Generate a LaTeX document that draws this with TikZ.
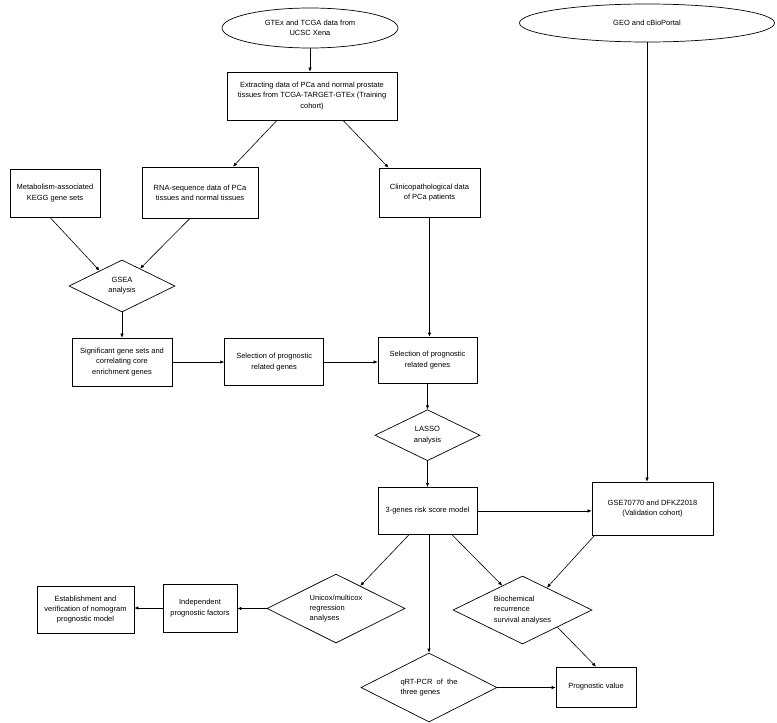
\documentclass[tikz,border=0pt]{standalone}
\usepackage{fontspec}
\setmainfont{Liberation Sans}
\usepackage{tikz}
\usetikzlibrary{calc, arrows.meta, positioning, shapes.geometric}

\begin{document}
\begin{tikzpicture}[
    x=1pt, y=-1pt,
    every node/.style={font=\fontsize{7.5}{10.3}\selectfont, align=center},
    box/.style={draw, line width=0.7pt, inner sep=1pt},
    src/.style={draw, ellipse, line width=0.7pt, inner sep=0pt},
    test/.style={draw, diamond, aspect=2, line width=0.7pt, inner sep=0pt},
    flow/.style={-{Latex[length=4pt,width=3.5pt]}, line width=0.6pt},
  ]
  \useasboundingbox (0,0) rectangle (777,723);

  % data sources
  \node[src, minimum width=176pt, minimum height=40pt] at (310,28) (gtex)
    {GTEx and TCGA data from\\UCSC Xena};
  \node[src, minimum width=255pt, minimum height=38pt] at (647,23) (geo)
    {GEO and cBioPortal};

  % training cohort
  \node[box, minimum width=170pt, minimum height=48pt] at (312,96) (ext)
    {Extracting data of PCa and normal prostate\\tissues from TCGA-TARGET-GTEx (Training\\cohort)};
  \node[box, minimum width=90pt, minimum height=48pt] at (55,193) (meta)
    {Metabolism-associated\\KEGG gene sets};
  \node[box, minimum width=116pt, minimum height=51pt] at (200,192.5) (rna)
    {RNA-sequence data of PCa\\tissues and normal tissues};
  \node[box, minimum width=101pt, minimum height=49pt] at (429.5,192.5) (clin)
    {Clinicopathological data\\of PCa patients};
  \node[test, minimum width=106pt, minimum height=52pt] at (122,286) (gsea)
    {GSEA\\analysis};
  \node[box, minimum width=100pt, minimum height=48pt] at (122,362) (sig)
    {Significant gene sets and\\correlating core\\enrichment genes};
  \node[box, minimum width=99pt, minimum height=47pt, right=52pt of sig] (sel1)
    {Selection of prognostic\\related genes};
  \node[box, minimum width=99pt, minimum height=46pt] at (427.5,360) (sel2)
    {Selection of prognostic\\related genes};
  \node[test, minimum width=105pt, minimum height=51pt, below=26pt of sel2] (lasso)
    {LASSO\\analysis};
  \node[box, minimum width=99pt, minimum height=47pt, below=26pt of lasso] (risk)
    {3-genes risk score model};
  \node[box, minimum width=121pt, minimum height=53pt] at (652.5,508.5) (gse)
    {GSE70770 and DFKZ2018\\(Validation cohort)};

  % downstream analyses
  \node[test, minimum width=138pt, minimum height=69pt, align=left] at (336,608.5) (unicox)
    {Unicox/multicox\\regression\\analyses};
  \node[box, minimum width=74pt, minimum height=48pt] at (200,608) (indep)
    {Independent\\prognostic factors};
  \node[box, minimum width=97pt, minimum height=47pt] at (85.5,609.5) (est)
    {Establishment and\\verification of nomogram\\prognostic model};
  \node[test, minimum width=139pt, minimum height=68pt, align=left] at (522.5,610) (bio)
    {Biochemical\\recurrence\\survival analyses};
  \node[test, minimum width=136pt, minimum height=69pt, align=left] at (429,687.5) (qrt)
    {qRT-PCR\ \ of\ \ the\\three genes};
  \node[box, minimum width=80pt, minimum height=40pt] at (596,687) (prog)
    {Prognostic value};

  % connectors
  \draw[flow] (gtex.south) -- (gtex.south |- ext.north);
  \draw[flow] ([xshift=-35pt]ext.south) -- ([xshift=33pt]rna.north);
  \draw[flow] ([xshift=31pt]ext.south) -- ([xshift=-41pt]clin.north);
  \draw[flow] ([xshift=-5pt]meta.south) -- ($(gsea.north)!0.42!(gsea.west)$);
  \draw[flow] ([xshift=-10pt]rna.south) -- ($(gsea.north)!0.34!(gsea.east)$);
  \draw[flow] (gsea.south) -- (sig.north);
  \draw[flow] (clin.south) -- (clin.south |- sel2.north);
  \draw[flow] (sig.east) -- (sel1.west);
  \draw[flow] (sel1.east) -- (sel1.east -| sel2.west);
  \draw[flow] (sel2.south) -- (lasso.north);
  \draw[flow] (lasso.south) -- (risk.north);
  \draw[flow] (risk.east) -- (risk.east -| gse.west);
  \draw[flow] (geo.south) -- (geo.south |- gse.north);
  \draw[flow] ([xshift=-18.5pt]risk.south) -- ($(unicox.north)!0.35!(unicox.east)$);
  \draw[flow] ([xshift=24.5pt]risk.south) -- ($(bio.north)!0.29!(bio.west)$);
  \draw[flow] ([xshift=1.5pt]risk.south) -- (qrt.north);
  \draw[flow] ([xshift=3pt]gse.south west) -- ($(bio.north)!0.35!(bio.east)$);
  \draw[flow] (bio.south east) -- (prog.north);
  \draw[flow] (qrt.east) -- (qrt.east -| prog.west);
  \draw[flow] (unicox.west) -- (unicox.west -| indep.east);
  \draw[flow] (indep.west) -- (indep.west -| est.east);
\end{tikzpicture}
\end{document}
